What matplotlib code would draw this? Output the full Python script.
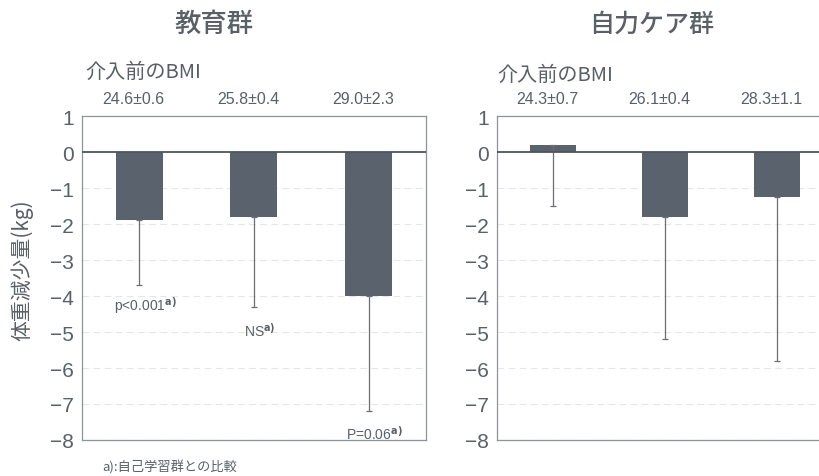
import matplotlib
matplotlib.use("Agg")
import matplotlib.pyplot as plt
import numpy as np

# weight change (kg) by baseline BMI tertile, lower SD only
edu_mean = [-1.9, -1.8, -4.0]
edu_sd = [1.8, 2.5, 3.2]
edu_bmi = ["24.6±0.6", "25.8±0.4", "29.0±2.3"]
edu_pvals = ["p<0.001", "NS", "P=0.06"]
edu_pval_y = [-3.95, -4.7, -7.55]

care_mean = [0.2, -1.8, -1.25]
care_sd = [1.7, 3.4, 4.55]
care_bmi = ["24.3±0.7", "26.1±0.4", "28.3±1.1"]

TXT = "#5a6068"
BAR = "#5a636d"
LAT = ["Liberation Sans", "Noto Sans CJK JP"]
CJK = ["Noto Sans CJK JP", "DejaVu Sans"]

plt.rcParams["font.family"] = LAT


def panel(ax, means, sds, bmi):
    x = np.arange(len(means))
    ax.bar(x, means, width=0.41, color=BAR, zorder=3)
    ax.errorbar(x, means, yerr=[sds, [0] * len(sds)], fmt="none",
                ecolor="#6a6f75", elinewidth=0.9, capsize=2.5, capthick=0.9,
                zorder=4)
    ax.set_xlim(-0.5, len(means) - 0.5)
    ax.set_ylim(-8, 1)
    ax.set_yticks(range(-8, 2))
    ax.set_yticklabels([str(v).replace("-", "\u2212") for v in range(-8, 2)])
    ax.set_xticks([])
    ax.tick_params(axis="y", length=0, pad=6, labelsize=15, labelcolor=TXT)
    for v in range(-8, 1):
        if v != 0:
            ax.axhline(v, color="#e4e6e8", lw=0.8, ls=(0, (6, 4)), zorder=1)
    ax.axhline(0, color="#4e555c", lw=1.3, zorder=5)
    for s in ax.spines.values():
        s.set_color("#8e9398")
        s.set_linewidth(0.9)
    for xi, lab in zip(x, bmi):
        ax.text(xi - 0.05, 1.27, lab, ha="center", va="bottom", fontsize=11.5,
                color=TXT)


fig = plt.figure(figsize=(8.19, 4.77), dpi=100)
ax1 = fig.add_axes([0.100, 0.0755, 0.420, 0.679])
ax2 = fig.add_axes([0.6068, 0.0755, 0.410, 0.679])

panel(ax1, edu_mean, edu_sd, edu_bmi)
panel(ax2, care_mean, care_sd, care_bmi)

for xi, (p, yv) in enumerate(zip(edu_pvals, edu_pval_y)):
    ax1.text(xi + 0.05, yv, p + r"$^{\mathbf{a)}}$", ha="center", va="top",
             fontsize=10, color=TXT)

fig.text(0.262, 0.948, "教育群", ha="center", va="center", fontsize=19,
         color=TXT, family=CJK, weight="medium")
fig.text(0.796, 0.948, "自力ケア群", ha="center", va="center", fontsize=18,
         color=TXT, family=CJK, weight="medium")
fig.text(0.104, 0.848, "介入前のBMI", ha="left", va="center", fontsize=14.5,
         color=TXT, family=CJK)
fig.text(0.607, 0.842, "介入前のBMI", ha="left", va="center", fontsize=14.5,
         color=TXT, family=CJK)
fig.text(0.027, 0.434, "体重減少量(kg)", ha="center", va="center",
         rotation=90, fontsize=15, color=TXT, family=CJK)
fig.text(0.1245, 0.021, "a):自己学習群との比較", ha="left", va="center",
         fontsize=9.5, color=TXT, family=CJK)

fig.savefig("out.png", dpi=100)
